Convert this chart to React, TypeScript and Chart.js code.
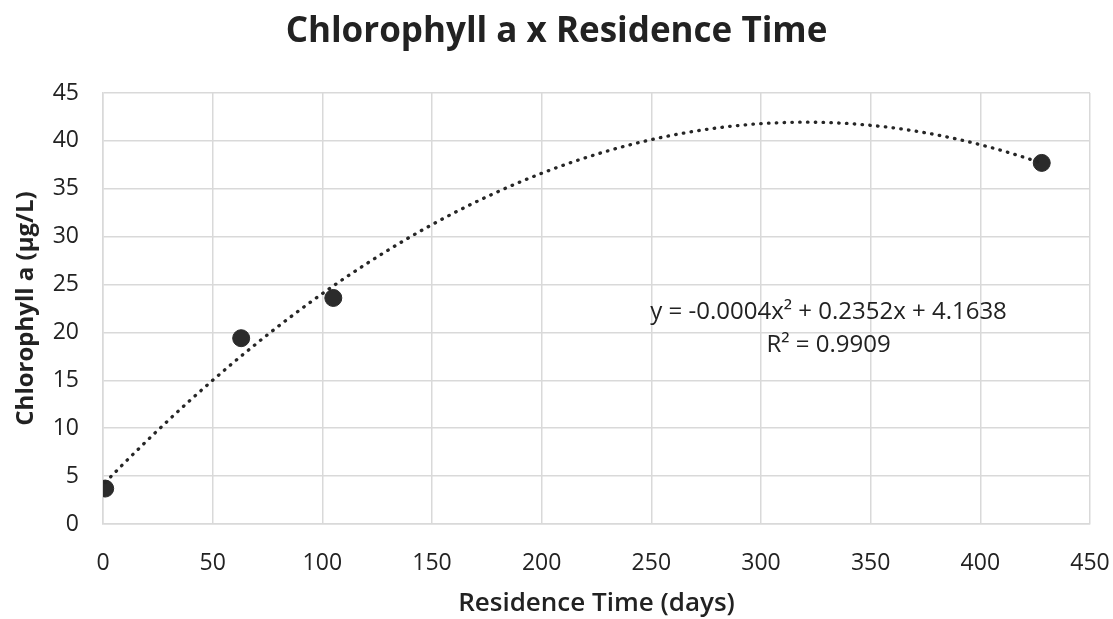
import React, { useEffect, useRef } from "react";
import { Chart, registerables } from "chart.js";

Chart.register(...registerables);

const residenceDays = [1, 63, 105, 428];
const chlorophyll = [3.7, 19.4, 23.6, 37.7];
const xTicks = [0, 50, 100, 150, 200, 250, 300, 350, 400, 450];
const yTicks = [0, 5, 10, 15, 20, 25, 30, 35, 40, 45];
const equationLines = ["y = -0.0004x² + 0.2352x + 4.1638", "R² = 0.9909"];

const FONT = "'Open Sans', 'Noto Sans', sans-serif";
const TEXT = "#222222";

// least-squares quadratic fit (Excel polynomial trendline, order 2)
function quadFit(xs: number[], ys: number[]) {
  let s0 = 0, s1 = 0, s2 = 0, s3 = 0, s4 = 0, t0 = 0, t1 = 0, t2 = 0;
  xs.forEach((x, i) => {
    const y = ys[i];
    s0 += 1; s1 += x; s2 += x * x; s3 += x ** 3; s4 += x ** 4;
    t0 += y; t1 += x * y; t2 += x * x * y;
  });
  const M = [
    [s4, s3, s2, t2],
    [s3, s2, s1, t1],
    [s2, s1, s0, t0],
  ];
  for (let i = 0; i < 3; i++) {
    let p = i;
    for (let r = i + 1; r < 3; r++) if (Math.abs(M[r][i]) > Math.abs(M[p][i])) p = r;
    [M[i], M[p]] = [M[p], M[i]];
    for (let r = 0; r < 3; r++) {
      if (r === i) continue;
      const f = M[r][i] / M[i][i];
      for (let c = i; c < 4; c++) M[r][c] -= f * M[i][c];
    }
  }
  return [M[0][3] / M[0][0], M[1][3] / M[1][1], M[2][3] / M[2][2]];
}

const equationPlugin = {
  id: "equation",
  afterDatasetsDraw(chart: any) {
    const { ctx, scales } = chart;
    const cx = scales.x.getPixelForValue(330.8);
    const y1 = scales.y.getPixelForValue(22.15);
    const y2 = scales.y.getPixelForValue(18.67);
    ctx.save();
    ctx.fillStyle = TEXT;
    ctx.font = `24px ${FONT}`;
    ctx.textAlign = "center";
    ctx.textBaseline = "middle";
    ctx.fillText(equationLines[0], cx, y1);
    ctx.fillText(equationLines[1], cx, y2);
    ctx.restore();
  },
};

export default function App() {
  const ref = useRef<HTMLCanvasElement>(null);
  useEffect(() => {
    if (!ref.current) return;
    const [a, b, c] = quadFit(residenceDays, chlorophyll);
    const lo = residenceDays[0];
    const hi = residenceDays[residenceDays.length - 1];
    const trend: { x: number; y: number }[] = [];
    for (let x = lo; x <= hi; x += 2) trend.push({ x, y: a * x * x + b * x + c });
    trend.push({ x: hi, y: a * hi * hi + b * hi + c });

    const chart = new Chart(ref.current, {
      type: "scatter",
      data: {
        datasets: [
          {
            label: "trend",
            type: "line",
            data: trend,
            borderColor: "#262626",
            borderWidth: 3.3,
            borderDash: [0.5, 7.3],
            borderCapStyle: "round",
            pointRadius: 0,
            fill: false,
            tension: 0,
          } as any,
          {
            label: "Chlorophyll a",
            data: residenceDays.map((x, i) => ({ x, y: chlorophyll[i] })),
            backgroundColor: "#2b2b2b",
            borderColor: "#2b2b2b",
            pointRadius: 8.5,
            pointHoverRadius: 8.5,
          },
        ],
      },
      options: {
        animation: false,
        responsive: false,
        maintainAspectRatio: false,
        layout: { padding: { left: 0, right: 0, top: 0, bottom: 0 } },
        plugins: {
          legend: { display: false },
          tooltip: { enabled: false },
          title: {
            display: true,
            text: "Chlorophyll a x Residence Time",
            color: TEXT,
            font: { family: FONT, size: 35, weight: "bold" },
            padding: { top: 11, bottom: 40 },
          },
        },
        scales: {
          x: {
            type: "linear",
            min: 0,
            max: 450,
            afterBuildTicks: (s: any) => {
              s.ticks = xTicks.map((v) => ({ value: v }));
            },
            afterFit: (s: any) => {
              s.height = 95;
              s.paddingLeft = 0;
              s.paddingRight = 23;
            },
            grid: { color: "#d9d9d9", lineWidth: 1.5, drawTicks: false },
            border: { color: "#d9d9d9", width: 1.5 },
            ticks: {
              color: TEXT,
              font: { family: FONT, size: 23 },
              padding: 26,
              maxRotation: 0,
            },
            title: {
              display: true,
              text: "Residence Time (days)",
              color: TEXT,
              font: { family: FONT, size: 26, weight: 600 },
              padding: { top: 4, bottom: 0 },
            },
          },
          y: {
            type: "linear",
            min: 0,
            max: 45,
            afterBuildTicks: (s: any) => {
              s.ticks = yTicks.map((v) => ({ value: v }));
            },
            afterFit: (s: any) => {
              s.width = 103;
            },
            grid: { color: "#d9d9d9", lineWidth: 1.5, drawTicks: false },
            border: { color: "#d9d9d9", width: 1.5 },
            ticks: {
              color: TEXT,
              font: { family: FONT, size: 23 },
              padding: 24,
            },
            title: {
              display: true,
              text: "Chlorophyll a (μg/L)",
              color: TEXT,
              font: { family: FONT, size: 24, weight: "bold" },
              padding: { top: 12, bottom: 4 },
            },
          },
        },
      },
      plugins: [equationPlugin],
    } as any);
    return () => chart.destroy();
  }, []);

  return (
    <div style={{ position: "absolute", left: 0, top: 0, width: 1113, height: 619, background: "#fff" }}>
      <canvas ref={ref} width={1113} height={619} style={{ width: 1113, height: 619 }} />
    </div>
  );
}
